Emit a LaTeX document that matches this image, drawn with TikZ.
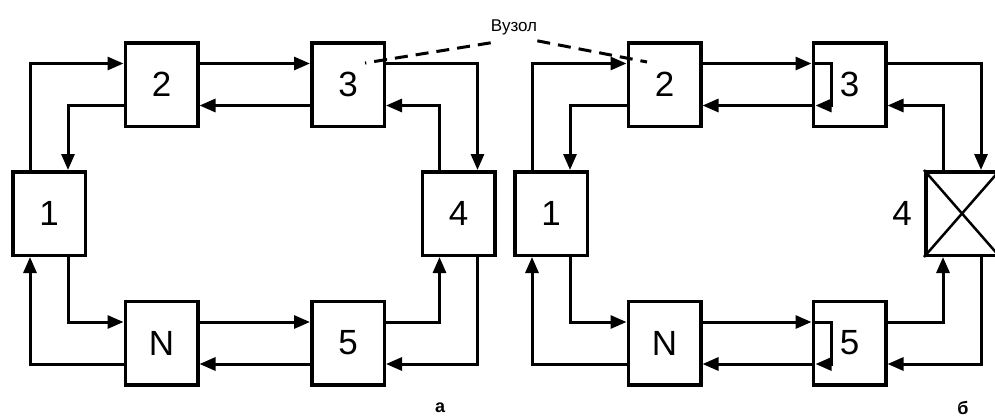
\documentclass[tikz,border=0pt]{standalone}
\usepackage{fontspec}
\setmainfont{Liberation Sans}
\usetikzlibrary{arrows.meta}
\begin{document}
\begin{tikzpicture}[x=1pt,y=-1pt,
  box/.style={draw, line width=3.5pt, minimum width=72.5pt, minimum height=83.5pt, inner sep=0pt,
              font=\fontsize{35}{35}\selectfont},
  conn/.style={line width=3pt, -{Triangle[length=16pt,width=13pt]}},
  leader/.style={line width=3pt, dash pattern=on 13pt off 8pt},
  lbl/.style={inner sep=0pt, font=\fontsize{35}{35}\selectfont},
  captxt/.style={inner sep=0pt, font=\bfseries\fontsize{18}{18}\selectfont}]
\useasboundingbox (0,0) rectangle (995,418);
% ---------- diagram a ----------
\node[box] (n1a) at (49,213.5) {1};
\node[box] (n2a) at (161.5,84.5) {2};
\node[box] (n3a) at (348,84.5) {3};
\node[box] (n4a) at (458.5,213.5) {4};
\node[box] (nNa) at (161.5,343) {N};
\node[box] (n5a) at (348,343) {5};
\draw[conn] ([xshift=-19pt]n1a.north) |- ([yshift=21pt]n2a.west);
\draw[conn] ([yshift=-21pt]n2a.west) -| ([xshift=19pt]n1a.north);
\draw[conn] ([yshift=21pt]n2a.east) -- ([yshift=21pt]n3a.west);
\draw[conn] ([yshift=-21pt]n3a.west) -- ([yshift=-21pt]n2a.east);
\draw[conn] ([yshift=21pt]n3a.east) -| ([xshift=19pt]n4a.north);
\draw[conn] ([xshift=-19pt]n4a.north) |- ([yshift=-21pt]n3a.east);
\draw[conn] ([xshift=19pt]n1a.south) |- ([yshift=21pt]nNa.west);
\draw[conn] ([yshift=-21pt]nNa.west) -| ([xshift=-19pt]n1a.south);
\draw[conn] ([yshift=21pt]nNa.east) -- ([yshift=21pt]n5a.west);
\draw[conn] ([yshift=-21pt]n5a.west) -- ([yshift=-21pt]nNa.east);
\draw[conn] ([yshift=21pt]n5a.east) -| ([xshift=-19pt]n4a.south);
\draw[conn] ([xshift=19pt]n4a.south) |- ([yshift=-21pt]n5a.east);
\node[captxt] (capa) at (440,408) {а};
% ---------- diagram b ----------
\node[box] (n1b) at (551,213.5) {1};
\node[box] (n2b) at (664.5,84.5) {2};
\node[box] (n3b) at (849.5,84.5) {3};
\node[box] (n4b) at (962,213.5) {};
\node[lbl] (l4b) at (902,213) {4};
\draw[line width=2.5pt] (n4b.north west) -- (n4b.south east);
\draw[line width=2.5pt] (n4b.south west) -- (n4b.north east);
\node[box] (nNb) at (664.5,343) {N};
\node[box] (n5b) at (849.5,343) {5};
\draw[conn] ([xshift=-19pt]n1b.north) |- ([yshift=21pt]n2b.west);
\draw[conn] ([yshift=-21pt]n2b.west) -| ([xshift=19pt]n1b.north);
\draw[conn] ([yshift=21pt]n2b.east) -- ([yshift=21pt]n3b.west);
\draw[conn] ([yshift=21pt]n3b.west) -| ([xshift=20pt,yshift=-21pt]n3b.west) -- ([xshift=4pt,yshift=-21pt]n3b.west);
\draw[conn] ([yshift=-21pt]n3b.west) -- ([yshift=-21pt]n2b.east);
\draw[conn] ([yshift=21pt]n3b.east) -| ([xshift=19pt]n4b.north);
\draw[conn] ([xshift=-19pt]n4b.north) |- ([yshift=-21pt]n3b.east);
\draw[conn] ([xshift=19pt]n1b.south) |- ([yshift=21pt]nNb.west);
\draw[conn] ([yshift=-21pt]nNb.west) -| ([xshift=-19pt]n1b.south);
\draw[conn] ([yshift=21pt]nNb.east) -- ([yshift=21pt]n5b.west);
\draw[conn] ([yshift=21pt]n5b.west) -| ([xshift=20pt,yshift=-21pt]n5b.west) -- ([xshift=4pt,yshift=-21pt]n5b.west);
\draw[conn] ([yshift=-21pt]n5b.west) -- ([yshift=-21pt]nNb.east);
\draw[conn] ([yshift=21pt]n5b.east) -| ([xshift=-19pt]n4b.south);
\draw[conn] ([xshift=19pt]n4b.south) |- ([yshift=-21pt]n5b.east);
\node[captxt] (capb) at (963,408) {б};
% ---------- leader ----------
\node[inner sep=0pt, font=\fontsize{17}{17}\selectfont] (vuz) at (514,27) {Вузол};
\coordinate (pa) at (365,63);
\coordinate (pb) at (647,62);
\draw[leader] ([yshift=-8pt]vuz.south west) -- (pa);
\draw[leader] ([yshift=-6pt]vuz.south east) -- (pb);
\end{tikzpicture}
\end{document}
